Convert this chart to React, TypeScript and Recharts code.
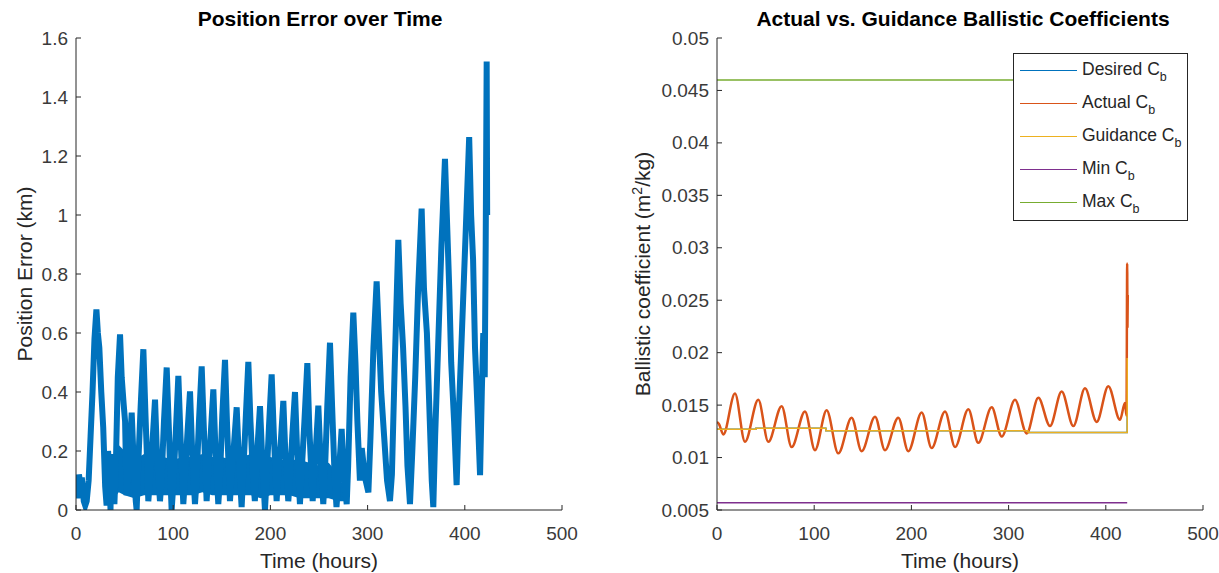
import React from 'react';
import { ComposedChart, LineChart, Line, Area, XAxis, YAxis, Legend } from 'recharts';

const FONT = '"Liberation Sans", Arial, Helvetica, sans-serif';
const AXIS_COLOR = '#262626';
const TICK_COLOR = '#3a3a3a';

// ---------- shared axis ----------
const timeTicks = [0, 100, 200, 300, 400, 500];

// ---------- left chart: position error (hours, km) ----------
const errorTicks = [0, 0.2, 0.4, 0.6, 0.8, 1, 1.2, 1.4, 1.6];
const positionError: [number, number][] = [
  [0, 0.1], [1.5, 0.04], [3, 0.12], [4.5, 0.09], [6, 0.11], [8, 0.03], [9.5, 0.015], [11, 0.03],
  [13, 0.1], [15, 0.25], [17, 0.4], [19, 0.58], [21, 0.68], [22.5, 0.6], [24, 0.55], [26, 0.4],
  [28, 0.28], [30, 0.08], [31.5, 0.015], [33, 0.2], [34.5, 0.1], [35.5, 0.0], [36.5, 0.19], [38, 0.08],
  [39.5, 0.02], [41, 0.15], [43, 0.45], [45.3, 0.595], [47, 0.45], [49, 0.36], [50.5, 0.3], [52, 0.05],
  [54, 0.12], [57.3, 0.33], [59.5, 0.15], [61.5, 0.03], [62.4, 0.0], [64, 0.15], [66.5, 0.35], [69.3, 0.545],
  [71.5, 0.32], [73, 0.18], [74.4, 0.03], [76, 0.1], [78.5, 0.22], [81.3, 0.374], [83.5, 0.17], [86.4, 0.03],
  [88, 0.1], [90.5, 0.3], [93.3, 0.483], [95.5, 0.28], [97, 0.12], [98.4, 0.0], [100, 0.08], [102.5, 0.25],
  [105.3, 0.455], [107.5, 0.25], [110.4, 0.02], [112, 0.1], [114.5, 0.25], [117.3, 0.402], [119.5, 0.2], [122.4, 0.02],
  [124, 0.1], [126.5, 0.3], [129.3, 0.487], [131.5, 0.28], [134.4, 0.03], [136, 0.12], [138.5, 0.25], [141.3, 0.409],
  [143.5, 0.2], [146.4, 0.02], [148, 0.1], [150.5, 0.32], [153.3, 0.509], [155.5, 0.28], [158.4, 0.03], [160, 0.11],
  [162.5, 0.22], [165.3, 0.348], [167.5, 0.18], [170.4, 0.01], [172, 0.12], [174.5, 0.3], [177.3, 0.502], [179.5, 0.3],
  [182, 0.12], [184, 0.03], [186.5, 0.2], [189.3, 0.352], [191.5, 0.18], [194.4, 0.0], [196, 0.1], [198.5, 0.28],
  [201.3, 0.46], [203.5, 0.26], [206.4, 0.03], [208, 0.12], [210.5, 0.22], [213.3, 0.37], [215.5, 0.18], [218.4, 0.03],
  [220, 0.1], [222.5, 0.25], [225.3, 0.4], [227.5, 0.2], [230.4, 0.02], [232, 0.12], [235, 0.3], [238, 0.498],
  [240, 0.28], [243.5, 0.03], [245, 0.12], [247, 0.22], [249.3, 0.354], [251.5, 0.18], [254.4, 0.02], [256, 0.12],
  [258.5, 0.35], [261.3, 0.567], [263.5, 0.35], [266, 0.12], [268, 0.01], [270, 0.1], [273.3, 0.275], [275.5, 0.12],
  [278.5, 0.02], [280, 0.15], [282.5, 0.45], [285.3, 0.669], [287.5, 0.5], [289.5, 0.3], [292.1, 0.1], [294, 0.21],
  [296, 0.15], [298, 0.1], [300.8, 0.06], [303, 0.25], [306, 0.55], [309.3, 0.775], [311.5, 0.6], [314, 0.4],
  [317, 0.25], [320, 0.1], [323, 0.03], [325, 0.12], [328, 0.5], [331.6, 0.916], [334, 0.7], [336.5, 0.55],
  [339, 0.35], [341, 0.15], [343.6, 0.02], [346, 0.2], [349, 0.45], [352, 0.75], [355.6, 1.022], [358, 0.75],
  [361, 0.6], [364, 0.3], [366, 0.1], [367.6, 0.01], [369.5, 0.25], [372.5, 0.55], [376, 0.9], [379.6, 1.19],
  [382, 0.95], [384, 0.75], [386, 0.5], [389, 0.3], [391.6, 0.084], [393.5, 0.3], [397, 0.6], [401, 0.95],
  [404.5, 1.264], [406.5, 1.0], [408.5, 0.85], [410.5, 0.55], [413, 0.35], [415.7, 0.118], [417.5, 0.4], [419, 0.6],
  [420.5, 0.45], [421.5, 0.9], [422.5, 1.52], [423, 1.0],
];
// dense noise floor of the error signal between the oscillation peaks: [hours, low km, high km]
const errorNoiseBand: [number, number, number][] = [
  [36, 0.03, 0.12], [44, 0.06, 0.22], [50, 0.05, 0.2], [60, 0.04, 0.17], [70, 0.05, 0.19], [80, 0.05, 0.18],
  [90, 0.05, 0.18], [100, 0.05, 0.17], [110, 0.05, 0.18], [120, 0.05, 0.18], [130, 0.06, 0.19], [140, 0.05, 0.18],
  [150, 0.05, 0.18], [160, 0.05, 0.17], [170, 0.05, 0.18], [180, 0.05, 0.19], [190, 0.04, 0.17], [200, 0.05, 0.18],
  [210, 0.05, 0.17], [220, 0.05, 0.17], [230, 0.04, 0.17], [240, 0.04, 0.16], [250, 0.04, 0.15], [260, 0.04, 0.16],
  [270, 0.03, 0.12], [278, 0.03, 0.06],
];

// ---------- right chart: ballistic coefficients (hours, m^2/kg) ----------
const cbTicks = [0.005, 0.01, 0.015, 0.02, 0.025, 0.03, 0.035, 0.04, 0.045, 0.05];
const actualCb: [number, number][] = [
  [0, 0.0134], [2, 0.0132], [6.5, 0.0122], [18.5, 0.0161], [28.8, 0.0115], [42.5, 0.0155], [52.8, 0.0115],
  [66.5, 0.0149], [76.8, 0.011], [90.5, 0.0144], [100.8, 0.0107], [112.8, 0.0145], [124.8, 0.0104],
  [138.5, 0.0138], [148.8, 0.0106], [162.6, 0.0139], [172.8, 0.0107], [186.5, 0.0138], [196.8, 0.0106],
  [210.6, 0.0143], [220.8, 0.0109], [234.6, 0.0144], [244.9, 0.011], [258.6, 0.0146], [268.8, 0.0114],
  [282.6, 0.0148], [292.9, 0.012], [306.6, 0.0155], [318.6, 0.0123], [330.6, 0.0157], [342.6, 0.013],
  [354.6, 0.0163], [366.6, 0.013], [378.6, 0.0166], [390.6, 0.0134], [402.6, 0.0168], [414.6, 0.0136],
  [419.7, 0.0152], [421.3, 0.014], [422, 0.0285], [422.3, 0.0225], [422.6, 0.0255],
];
const guidanceCb: [number, number][] = [
  [0, 0.0127], [40, 0.0127], [40, 0.0128], [112, 0.0128], [112, 0.01255], [320, 0.01255], [320, 0.0124],
  [422, 0.0124], [422, 0.0195],
];
const desiredCb: [number, number][] = guidanceCb;
const minCb: [number, number][] = [[0, 0.0057], [422, 0.0057]];
const maxCb: [number, number][] = [[0, 0.046], [422, 0.046]];

const legendItems = [
  { name: 'Desired C', color: '#0072BD' },
  { name: 'Actual C', color: '#D95319' },
  { name: 'Guidance C', color: '#EDB120' },
  { name: 'Min C', color: '#7E2F8E' },
  { name: 'Max C', color: '#77AC30' },
];

const toRows = (pairs: [number, number][]) => pairs.map(([t, v]) => ({ t, v }));
const bandRows = errorNoiseBand.map(([t, lo, hi]) => ({ t, range: [lo, hi] }));

// ---------- ticks (MATLAB-style, pointing inward) ----------
const BottomTick = (props: any) => {
  const { x, y, payload } = props;
  return (
    <g>
      <line x1={x} y1={y} x2={x} y2={y - 5} stroke={AXIS_COLOR} />
      <text x={x} y={y + 23} textAnchor="middle" dominantBaseline="central" fontSize={19} fill={TICK_COLOR} fontFamily={FONT}>
        {payload.value}
      </text>
    </g>
  );
};
const TopTick = (props: any) => {
  const { x, y } = props;
  return <line x1={x} y1={y} x2={x} y2={y + 5} stroke={AXIS_COLOR} />;
};
const LeftTick = (props: any) => {
  const { x, y, payload } = props;
  return (
    <g>
      <line x1={x} y1={y} x2={x + 5} y2={y} stroke={AXIS_COLOR} />
      <text x={x - 8} y={y} textAnchor="end" dominantBaseline="central" fontSize={19} fill={TICK_COLOR} fontFamily={FONT}>
        {String(payload.value)}
      </text>
    </g>
  );
};
const RightTick = (props: any) => {
  const { x, y } = props;
  return <line x1={x} y1={y} x2={x - 5} y2={y} stroke={AXIS_COLOR} />;
};

const LegendBox = () => (
  <div
    style={{
      width: 175,
      height: 168,
      border: `1px solid ${AXIS_COLOR}`,
      background: '#fff',
      boxSizing: 'border-box',
      fontFamily: FONT,
      fontSize: 17.5,
      color: '#262626',
    }}
  >
    {legendItems.map((it) => (
      <div key={it.name} style={{ height: 33, position: 'relative' }}>
        <div style={{ position: 'absolute', left: 6, width: 57, top: 16, height: 0, borderTop: `1.5px solid ${it.color}` }} />
        <div style={{ position: 'absolute', left: 68, top: 5, whiteSpace: 'nowrap', lineHeight: '20px' }}>
          {it.name}
          <span style={{ fontSize: 12.5, position: 'relative', top: 6 }}>b</span>
        </div>
      </div>
    ))}
  </div>
);

const titleStyle: React.CSSProperties = {
  position: 'absolute',
  transform: 'translate(-50%, -50%)',
  fontWeight: 'bold',
  fontSize: 21,
  color: '#000',
  whiteSpace: 'nowrap',
  fontFamily: FONT,
};
const xLabelStyle: React.CSSProperties = {
  position: 'absolute',
  transform: 'translate(-50%, -50%)',
  fontSize: 21,
  color: '#262626',
  whiteSpace: 'nowrap',
  fontFamily: FONT,
};
const yLabelStyle: React.CSSProperties = {
  position: 'absolute',
  transform: 'translate(-50%, -50%) rotate(-90deg)',
  fontSize: 21,
  color: '#262626',
  whiteSpace: 'nowrap',
  fontFamily: FONT,
};

const BLUE = '#0072BD';

export default function App() {
  return (
    <div style={{ position: 'absolute', left: 0, top: 0, width: 1219, height: 573, background: '#fff', overflow: 'hidden', fontFamily: FONT }}>
      {/* Left chart */}
      <div style={{ position: 'absolute', left: 0, top: 0 }}>
        <ComposedChart width={600} height={573} margin={{ top: 38, right: 38, bottom: 33, left: 16 }}>
          <XAxis xAxisId="b" dataKey="t" type="number" domain={[0, 500]} ticks={timeTicks} interval={0} height={30}
            tickSize={0} tickMargin={0} tick={<BottomTick />} axisLine={{ stroke: AXIS_COLOR }} allowDataOverflow />
          <XAxis xAxisId="t" orientation="top" dataKey="t" type="number" domain={[0, 500]} ticks={timeTicks} interval={0} height={0}
            tickSize={0} tickMargin={0} tick={<TopTick />} axisLine={{ stroke: AXIS_COLOR }} allowDataOverflow />
          <YAxis yAxisId="l" type="number" domain={[0, 1.6]} ticks={errorTicks} interval={0} width={60}
            tickSize={0} tickMargin={0} tick={<LeftTick />} axisLine={{ stroke: AXIS_COLOR }} allowDataOverflow />
          <YAxis yAxisId="r" orientation="right" type="number" domain={[0, 1.6]} ticks={errorTicks} interval={0} width={0}
            tickSize={0} tickMargin={0} tick={<RightTick />} axisLine={{ stroke: AXIS_COLOR }} allowDataOverflow />
          <Area xAxisId="b" yAxisId="l" data={bandRows} dataKey="range" type="linear" stroke="none" fill={BLUE}
            fillOpacity={1} isAnimationActive={false} dot={false} activeDot={false} />
          <Line xAxisId="b" yAxisId="l" data={toRows(positionError)} dataKey="v" type="linear" stroke={BLUE}
            strokeWidth={6} strokeLinejoin="miter" dot={false} isAnimationActive={false} />
        </ComposedChart>
      </div>
      <div style={{ ...titleStyle, left: 320, top: 19 }}>Position Error over Time</div>
      <div style={{ ...xLabelStyle, left: 319, top: 561 }}>Time (hours)</div>
      <div style={{ ...yLabelStyle, left: 25, top: 274 }}>Position Error (km)</div>

      {/* Right chart */}
      <div style={{ position: 'absolute', left: 610, top: 0 }}>
        <LineChart width={609} height={573} margin={{ top: 38, right: 16, bottom: 33, left: 47 }}>
          <XAxis xAxisId="b" dataKey="t" type="number" domain={[0, 500]} ticks={timeTicks} interval={0} height={30}
            tickSize={0} tickMargin={0} tick={<BottomTick />} axisLine={{ stroke: AXIS_COLOR }} allowDataOverflow />
          <XAxis xAxisId="t" orientation="top" dataKey="t" type="number" domain={[0, 500]} ticks={timeTicks} interval={0} height={0}
            tickSize={0} tickMargin={0} tick={<TopTick />} axisLine={{ stroke: AXIS_COLOR }} allowDataOverflow />
          <YAxis yAxisId="l" type="number" domain={[0.005, 0.05]} ticks={cbTicks} interval={0} width={60}
            tickSize={0} tickMargin={0} tick={<LeftTick />} axisLine={{ stroke: AXIS_COLOR }} allowDataOverflow />
          <YAxis yAxisId="r" orientation="right" type="number" domain={[0.005, 0.05]} ticks={cbTicks} interval={0} width={0}
            tickSize={0} tickMargin={0} tick={<RightTick />} axisLine={{ stroke: AXIS_COLOR }} allowDataOverflow />
          <Line xAxisId="b" yAxisId="l" data={toRows(desiredCb)} dataKey="v" type="linear" stroke={BLUE}
            strokeWidth={1.5} dot={false} isAnimationActive={false} legendType="none" />
          <Line xAxisId="b" yAxisId="l" data={toRows(actualCb)} dataKey="v" type="monotone" stroke="#D95319"
            strokeWidth={2.5} dot={false} isAnimationActive={false} />
          <Line xAxisId="b" yAxisId="l" data={toRows(guidanceCb)} dataKey="v" type="linear" stroke="#EDB120"
            strokeWidth={1.5} dot={false} isAnimationActive={false} />
          <Line xAxisId="b" yAxisId="l" data={toRows(minCb)} dataKey="v" type="linear" stroke="#7E2F8E"
            strokeWidth={1.5} dot={false} isAnimationActive={false} />
          <Line xAxisId="b" yAxisId="l" data={toRows(maxCb)} dataKey="v" type="linear" stroke="#77AC30"
            strokeWidth={1.5} dot={false} isAnimationActive={false} />
          <Legend layout="vertical" align="center" verticalAlign="middle"
            wrapperStyle={{ left: 403, top: 53, width: 175, height: 168 }} content={() => <LegendBox />} />
        </LineChart>
      </div>
      <div style={{ ...titleStyle, left: 963, top: 19 }}>Actual vs. Guidance Ballistic Coefficients</div>
      <div style={{ ...xLabelStyle, left: 960, top: 561 }}>Time (hours)</div>
      <div style={{ ...yLabelStyle, left: 642, top: 274 }}>
        Ballistic coefficient (m<sup style={{ fontSize: 14 }}>2</sup>/kg)
      </div>
    </div>
  );
}
